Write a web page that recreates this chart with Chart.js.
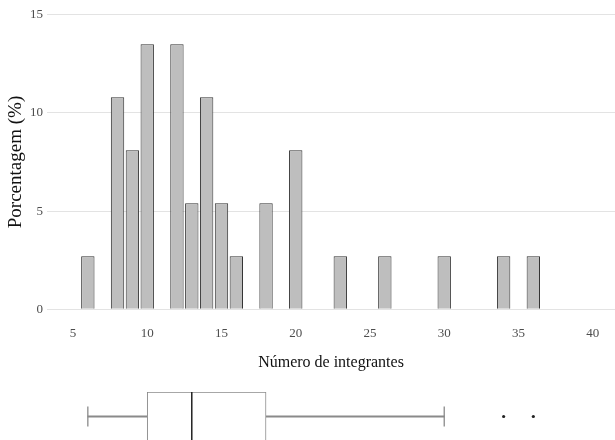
<!DOCTYPE html>
<html lang="pt">
<head>
<meta charset="UTF-8">
<title>Número de integrantes</title>
<script src="https://cdn.jsdelivr.net/npm/chart.js"></script>
<style>
  body { margin: 0; background: #fff; }
  #wrap { position: relative; width: 615px; height: 440px; overflow: hidden; }
  #hist { position: absolute; left: 0; top: 0; }
  #box { position: absolute; left: 0; top: 375px; }
</style>
</head>
<body>
<div id="wrap">
  <canvas id="hist" width="615" height="375"></canvas>
  <canvas id="box" width="615" height="70"></canvas>
</div>
<script>
const integrantes = [6, 8, 9, 10, 12, 13, 14, 15, 16, 18, 20, 23, 26, 30, 34, 36];
const porcentagem = [2.7, 10.8, 8.1, 13.5, 13.5, 5.4, 10.8, 5.4, 2.7, 5.4, 8.1, 2.7, 2.7, 2.7, 2.7, 2.7];
const xTicks = [5, 10, 15, 20, 25, 30, 35, 40];
const yTicks = [0, 5, 10, 15];
// boxplot: min, q1, mediana, q3, max (bigodes) e outliers
const caixa = [6, 10, 13, 18, 30];
const outliers = [34, 36];

const serif = 'Liberation Serif';
const xMin = 3.25, xMax = 41.5;

new Chart(document.getElementById('hist'), {
  type: 'bar',
  data: {
    datasets: [{
      data: integrantes.map((x, i) => ({ x: x, y: porcentagem[i] })),
      backgroundColor: '#bebebe',
      borderColor: '#333333',
      borderWidth: 1,
      barPercentage: 0.9,
      categoryPercentage: 1
    }]
  },
  options: {
    responsive: false,
    animation: false,
    layout: { padding: 0 },
    plugins: { legend: { display: false }, tooltip: { enabled: false } },
    scales: {
      x: {
        type: 'linear', min: xMin, max: xMax, offset: false,
        afterBuildTicks: s => { s.ticks = xTicks.map(v => ({ value: v })); },
        afterFit: s => { s.height = 51; s.paddingLeft = 0; s.paddingRight = 0; },
        grid: { display: false, drawTicks: false },
        border: { display: false },
        ticks: { color: '#4d4d4d', font: { family: serif, size: 13 }, padding: 2 },
        title: {
          display: true, text: 'Número de integrantes', color: '#111',
          font: { family: serif, size: 16 }, padding: { top: 0, bottom: 3 }
        }
      },
      y: {
        min: -0.75, max: 15.75,
        afterBuildTicks: s => { s.ticks = yTicks.map(v => ({ value: v })); },
        afterFit: s => { s.width = 47; s.paddingTop = 0; s.paddingBottom = 0; },
        grid: { color: '#e3e3e3', lineWidth: 1, drawTicks: false },
        border: { display: false },
        ticks: { color: '#4d4d4d', font: { family: serif, size: 13 }, padding: 4 },
        title: {
          display: true, text: 'Porcentagem (%)', color: '#111',
          font: { family: serif, size: 19 }, padding: { top: 5, bottom: 0 }
        }
      }
    }
  }
});

new Chart(document.getElementById('box'), {
  type: 'bar',
  data: {
    labels: ['caixa'],
    datasets: [
      {
        type: 'scatter',
        data: outliers.map(v => ({ x: v, y: 'caixa' })),
        pointStyle: 'circle', pointRadius: 1.6,
        pointBackgroundColor: '#222', pointBorderWidth: 0
      },
      {
        type: 'scatter',
        data: [{ x: caixa[2], y: 'caixa' }],
        pointStyle: 'line', pointRotation: 90, pointRadius: 24.5,
        pointBorderColor: '#222', pointBorderWidth: 1.5
      },
      {
        type: 'scatter',
        data: [{ x: caixa[0], y: 'caixa' }, { x: caixa[4], y: 'caixa' }],
        pointStyle: 'line', pointRotation: 90, pointRadius: 10,
        pointBorderColor: '#8a8a8a', pointBorderWidth: 1.3
      },
      {
        data: [[caixa[1], caixa[3]]],
        backgroundColor: '#fff', borderColor: '#8a8a8a', borderWidth: 1,
        borderSkipped: false, barPercentage: 1, categoryPercentage: 1, grouped: false
      },
      {
        data: [[caixa[0], caixa[1]]],
        backgroundColor: '#8a8a8a', borderWidth: 0, barThickness: 1.3, grouped: false
      },
      {
        data: [[caixa[3], caixa[4]]],
        backgroundColor: '#8a8a8a', borderWidth: 0, barThickness: 1.3, grouped: false
      }
    ]
  },
  options: {
    indexAxis: 'y',
    responsive: false,
    animation: false,
    layout: { autoPadding: false, padding: { left: 47, right: 0, top: 17, bottom: 4 } },
    plugins: { legend: { display: false }, tooltip: { enabled: false } },
    scales: {
      x: { type: 'linear', min: xMin, max: xMax, display: false },
      y: { type: 'category', display: false }
    }
  }
});
</script>
</body>
</html>
